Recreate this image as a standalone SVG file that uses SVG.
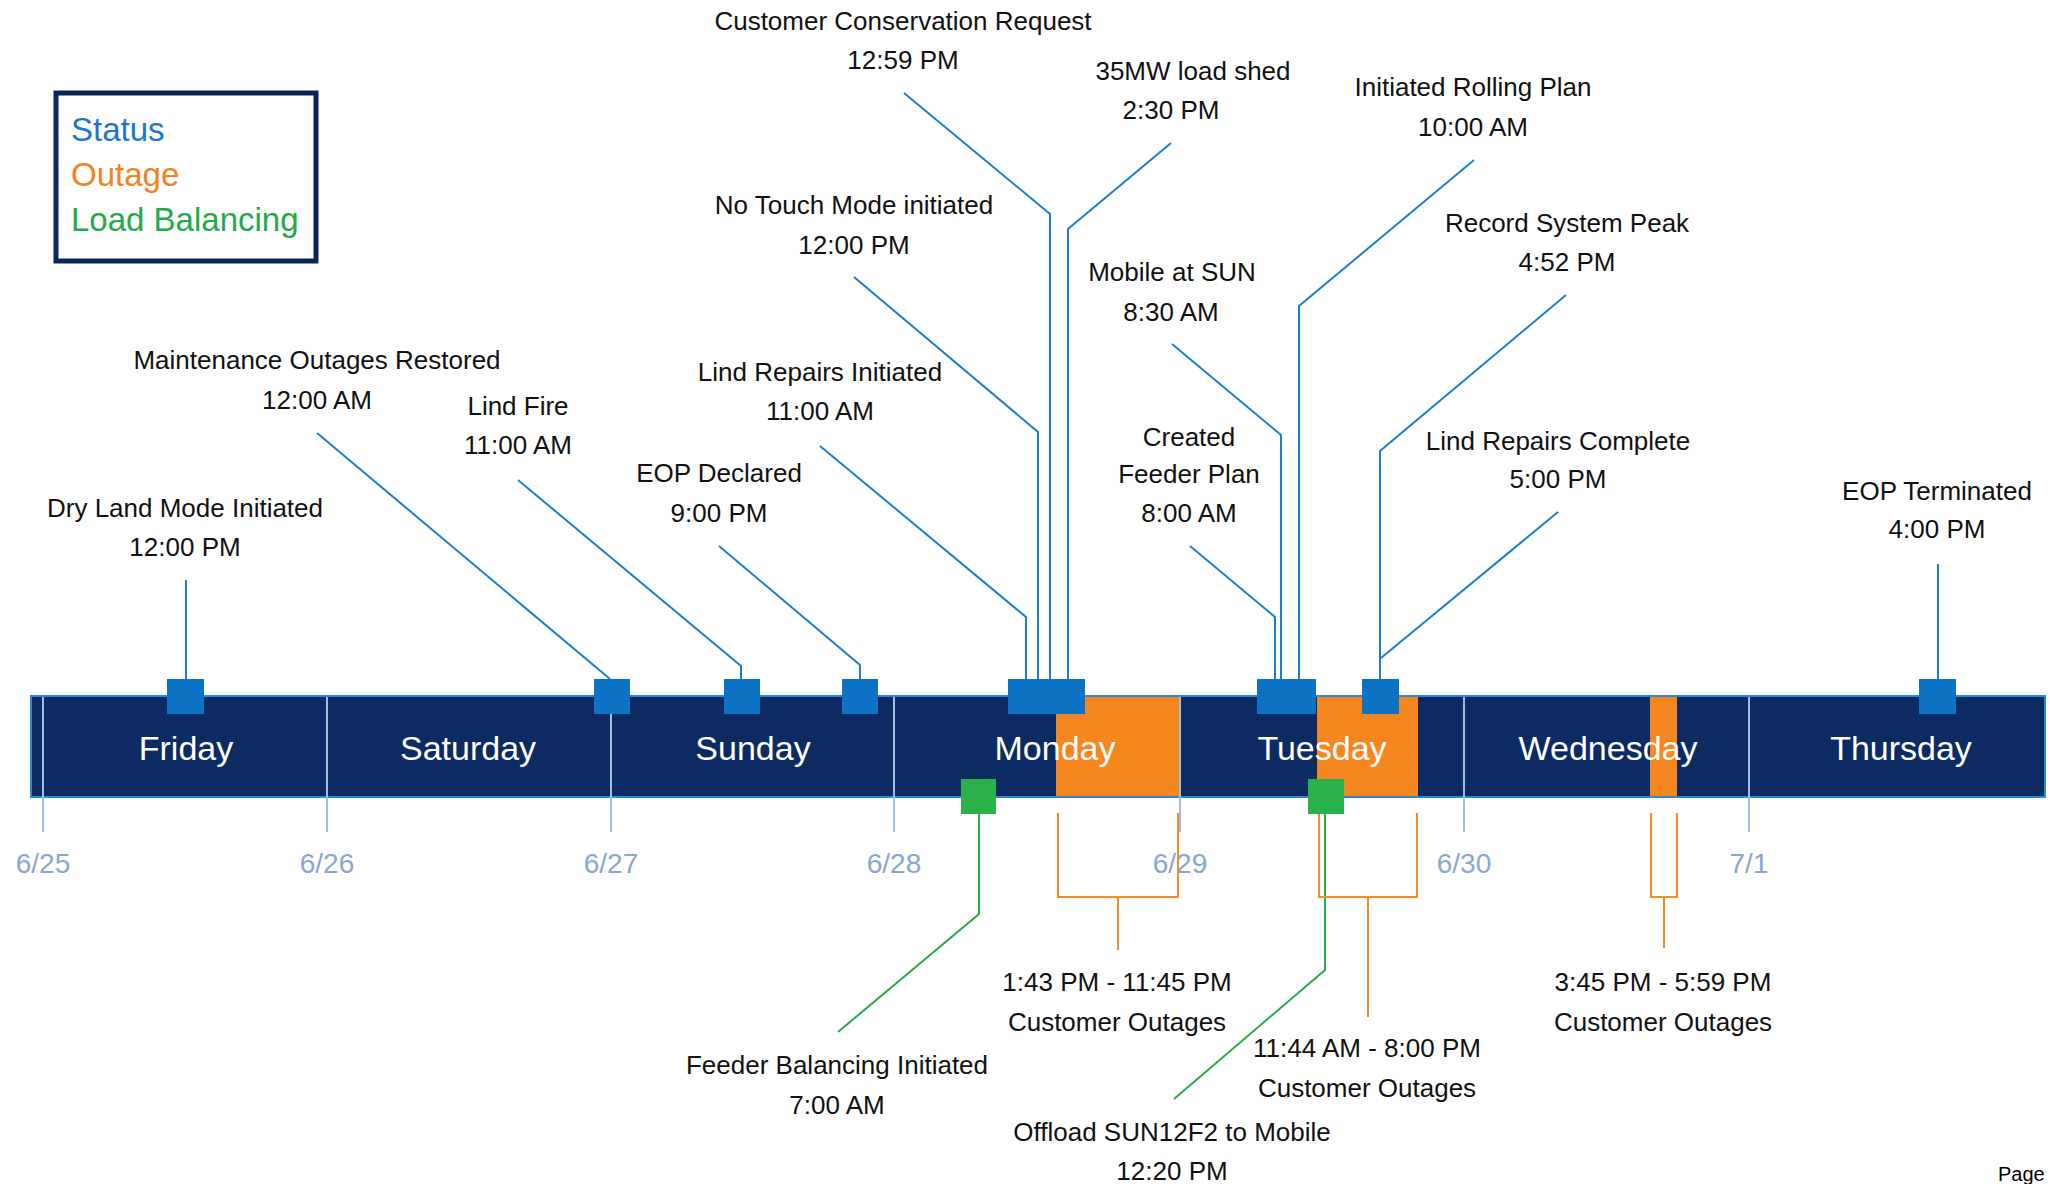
<svg xmlns="http://www.w3.org/2000/svg" width="2050" height="1184" viewBox="0 0 2050 1184">
<style>
text{font-family:"Liberation Sans",Arial,sans-serif}
.lbl{font-size:26px;fill:#111;text-anchor:middle}
.day{font-size:34px;fill:#fff;text-anchor:middle}
.date{font-size:28px;fill:#8ba6d2;text-anchor:middle}
.leg{font-size:33px}
.st{fill:#0b72c4}
.lb{fill:#2bb14b}
.out{fill:#f6861f}
.div{stroke:#a3bce0;stroke-width:2}
.cb{fill:none;stroke:#1f7fcf;stroke-width:2}
.cg{fill:none;stroke:#2aab4a;stroke-width:2}
.co{fill:none;stroke:#f58a2a;stroke-width:2}
</style>
<rect width="2050" height="1184" fill="#fff"/>

<g id="legend">
<rect x="56" y="93" width="260" height="168" fill="#fff" stroke="#0c2557" stroke-width="5"/>
<text class="leg" x="71" y="141" fill="#1a78c8">Status</text>
<text class="leg" x="71" y="186" fill="#f3811f">Outage</text>
<text class="leg" x="71" y="231" fill="#22aa4a">Load Balancing</text>
</g>

<g id="timeline">
<rect x="31" y="696" width="2014" height="101" fill="#0b2b62" stroke="#2a8ad6" stroke-width="2"/>
<rect class="out" x="1056" y="697" width="123" height="99"/>
<rect class="out" x="1317" y="697" width="101" height="99"/>
<rect class="out" x="1650" y="697" width="27" height="99"/>
<line class="div" x1="43" y1="697" x2="43" y2="832"/>
<line class="div" x1="327" y1="697" x2="327" y2="832"/>
<line class="div" x1="611" y1="697" x2="611" y2="832"/>
<line class="div" x1="894" y1="697" x2="894" y2="832"/>
<line class="div" x1="1180" y1="697" x2="1180" y2="832"/>
<line class="div" x1="1464" y1="697" x2="1464" y2="832"/>
<line class="div" x1="1749" y1="697" x2="1749" y2="832"/>
<text class="day" x="186" y="760">Friday</text>
<text class="day" x="468" y="760">Saturday</text>
<text class="day" x="753" y="760">Sunday</text>
<text class="day" x="1055" y="760">Monday</text>
<text class="day" x="1322" y="760">Tuesday</text>
<text class="day" x="1608" y="760">Wednesday</text>
<text class="day" x="1901" y="760">Thursday</text>
<text class="date" x="43" y="873">6/25</text>
<text class="date" x="327" y="873">6/26</text>
<text class="date" x="611" y="873">6/27</text>
<text class="date" x="894" y="873">6/28</text>
<text class="date" x="1180" y="873">6/29</text>
<text class="date" x="1464" y="873">6/30</text>
<text class="date" x="1749" y="873">7/1</text>
</g>

<g id="connectors">
<polyline class="cb" points="186,580 186,680"/>
<polyline class="cb" points="317,433 610,679"/>
<polyline class="cb" points="518,480 741,666 741,680"/>
<polyline class="cb" points="719,546 860,665 860,680"/>
<polyline class="cb" points="820,446 1026,617 1026,680"/>
<polyline class="cb" points="854,277 1038,432 1038,680"/>
<polyline class="cb" points="904,93 1050,214 1050,680"/>
<polyline class="cb" points="1171,143 1068,229 1068,680"/>
<polyline class="cb" points="1172,344 1281,435 1281,680"/>
<polyline class="cb" points="1190,546 1275,617 1275,680"/>
<polyline class="cb" points="1474,160 1299,306 1299,680"/>
<polyline class="cb" points="1566,295 1380,451 1380,680"/>
<polyline class="cb" points="1558,512 1381,658"/>
<polyline class="cb" points="1938,564 1938,680"/>
<polyline class="cg" points="979,813 979,914 838,1032"/>
<polyline class="cg" points="1325,813 1325,970 1174,1099"/>
<polyline class="co" points="1058,813 1058,897 1178,897 1178,813"/>
<line class="co" x1="1118" y1="897" x2="1118" y2="950"/>
<polyline class="co" points="1319,813 1319,897 1417,897 1417,813"/>
<line class="co" x1="1368" y1="897" x2="1368" y2="1017"/>
<polyline class="co" points="1651,813 1651,897 1677,897 1677,813"/>
<line class="co" x1="1664" y1="897" x2="1664" y2="948"/>
</g>

<g id="dry-land-mode">
<rect class="st" x="167" y="679" width="37" height="35"/>
<text class="lbl" x="185" y="517">Dry Land Mode Initiated</text>
<text class="lbl" x="185" y="556">12:00 PM</text>
</g>
<g id="maintenance-outages-restored">
<rect class="st" x="594" y="679" width="36" height="35"/>
<text class="lbl" x="317" y="369">Maintenance Outages Restored</text>
<text class="lbl" x="317" y="409">12:00 AM</text>
</g>
<g id="lind-fire">
<rect class="st" x="724" y="679" width="36" height="35"/>
<text class="lbl" x="518" y="415">Lind Fire</text>
<text class="lbl" x="518" y="454">11:00 AM</text>
</g>
<g id="eop-declared">
<rect class="st" x="842" y="679" width="36" height="35"/>
<text class="lbl" x="719" y="482">EOP Declared</text>
<text class="lbl" x="719" y="522">9:00 PM</text>
</g>
<g id="monday-status">
<rect class="st" x="1008" y="679" width="77" height="35"/>
</g>
<g id="lind-repairs-initiated">
<text class="lbl" x="820" y="381">Lind Repairs Initiated</text>
<text class="lbl" x="820" y="420">11:00 AM</text>
</g>
<g id="no-touch-mode">
<text class="lbl" x="854" y="214">No Touch Mode initiated</text>
<text class="lbl" x="854" y="254">12:00 PM</text>
</g>
<g id="customer-conservation-request">
<text class="lbl" x="903" y="30">Customer Conservation Request</text>
<text class="lbl" x="903" y="69">12:59 PM</text>
</g>
<g id="load-shed">
<text class="lbl" x="1193" y="80">35MW load shed</text>
<text class="lbl" x="1171" y="119">2:30 PM</text>
</g>
<g id="tuesday-status">
<rect class="st" x="1257" y="679" width="59" height="35"/>
</g>
<g id="mobile-at-sun">
<text class="lbl" x="1172" y="281">Mobile at SUN</text>
<text class="lbl" x="1171" y="321">8:30 AM</text>
</g>
<g id="created-feeder-plan">
<text class="lbl" x="1189" y="446">Created</text>
<text class="lbl" x="1189" y="483">Feeder Plan</text>
<text class="lbl" x="1189" y="522">8:00 AM</text>
</g>
<g id="initiated-rolling-plan">
<text class="lbl" x="1473" y="96">Initiated Rolling Plan</text>
<text class="lbl" x="1473" y="136">10:00 AM</text>
</g>
<g id="record-system-peak">
<rect class="st" x="1362" y="679" width="37" height="35"/>
<text class="lbl" x="1567" y="232">Record System Peak</text>
<text class="lbl" x="1567" y="271">4:52 PM</text>
</g>
<g id="lind-repairs-complete">
<text class="lbl" x="1558" y="450">Lind Repairs Complete</text>
<text class="lbl" x="1558" y="488">5:00 PM</text>
</g>
<g id="eop-terminated">
<rect class="st" x="1919" y="679" width="37" height="35"/>
<text class="lbl" x="1937" y="500">EOP Terminated</text>
<text class="lbl" x="1937" y="538">4:00 PM</text>
</g>
<g id="feeder-balancing">
<rect class="lb" x="961" y="779" width="35" height="35"/>
<text class="lbl" x="837" y="1074">Feeder Balancing Initiated</text>
<text class="lbl" x="837" y="1114">7:00 AM</text>
</g>
<g id="offload-sun12f2">
<rect class="lb" x="1308" y="779" width="36" height="35"/>
<text class="lbl" x="1172" y="1141">Offload SUN12F2 to Mobile</text>
<text class="lbl" x="1172" y="1180">12:20 PM</text>
</g>
<g id="outage-monday">
<text class="lbl" x="1117" y="991">1:43 PM - 11:45 PM</text>
<text class="lbl" x="1117" y="1031">Customer Outages</text>
</g>
<g id="outage-tuesday">
<text class="lbl" x="1367" y="1057">11:44 AM - 8:00 PM</text>
<text class="lbl" x="1367" y="1097">Customer Outages</text>
</g>
<g id="outage-wednesday">
<text class="lbl" x="1663" y="991">3:45 PM - 5:59 PM</text>
<text class="lbl" x="1663" y="1031">Customer Outages</text>
</g>
<text x="1998" y="1181" font-size="20" fill="#000">Page</text>
</svg>
